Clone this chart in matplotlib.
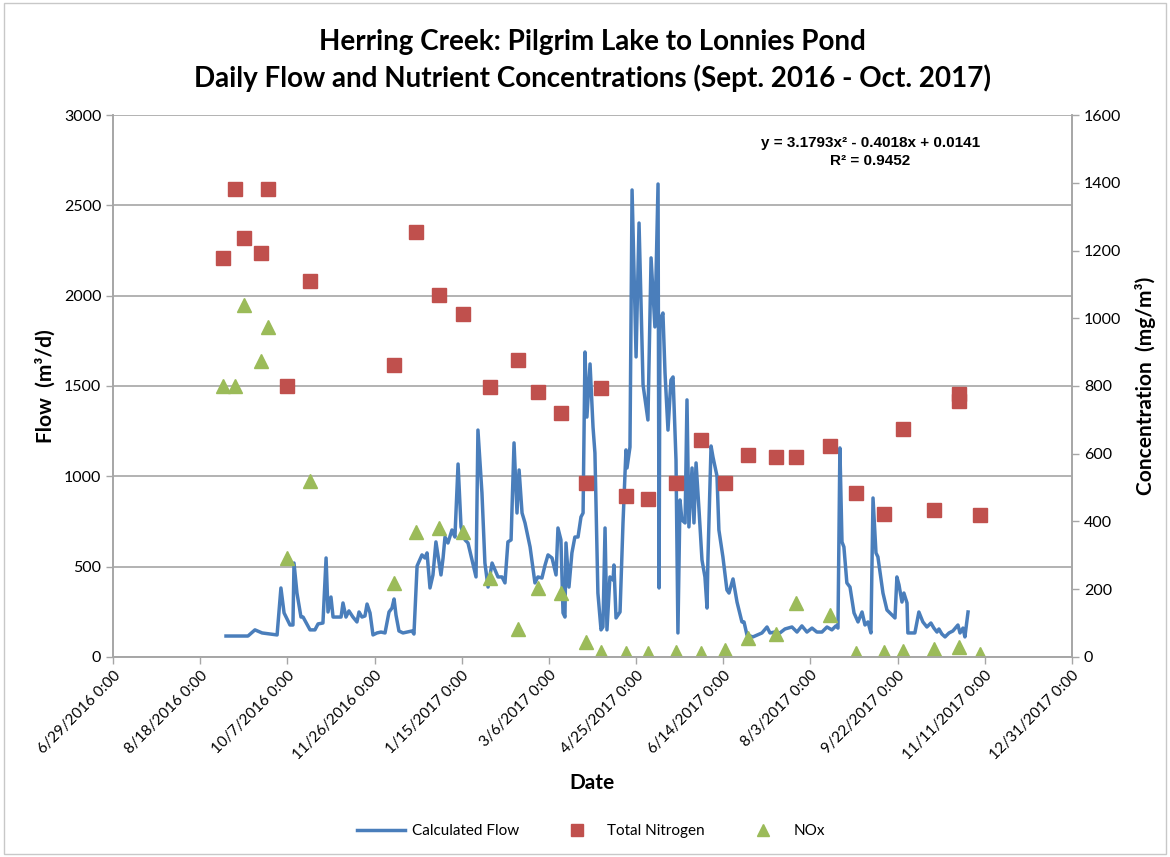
import numpy as np
import pandas as pd
import matplotlib
matplotlib.use("Agg")
import matplotlib.pyplot as plt
from matplotlib.lines import Line2D
from matplotlib.patches import Rectangle

start = pd.Timestamp("2016-06-29")

# daily flow, read as vertices (days since 6/29/2016, m3/d)
flow_day = [64.8, 77.4, 81.4, 85.5, 94.1, 96.3, 98.1, 101.5, 103.2, 103.8, 105.5, 107.8, 109.0,
            113.0, 115.8, 117.6, 120.4, 122.2, 123.3, 125.0, 126.2, 130.8, 131.9, 133.6, 135.3,
            137.6, 139.9, 141.1, 142.8, 144.5, 145.7, 147.4, 149.1, 151.4, 153.7, 156.0, 158.3,
            160.0, 161.2, 162.3, 164.0, 166.3, 171.5, 172.6, 174.4, 177.2, 178.9, 180.1, 181.8,
            183.5, 185.2, 188.1, 189.3, 190.4, 192.1, 194.4, 196.1, 197.9, 199.6, 201.9, 203.6,
            205.9, 208.2, 209.3, 211.6, 213.3, 215.1, 217.4, 219.1, 220.8, 223.1, 224.8, 226.5,
            228.3, 230.0, 231.7, 232.9, 234.6, 236.3, 239.2, 242.0, 243.7, 246.0, 247.8, 249.5,
            251.8, 254.1, 255.2, 256.9, 258.1, 259.2, 259.8, 261.5, 263.2, 264.9, 266.7, 268.4,
            269.6, 270.7, 271.8, 273.6, 275.3, 276.4, 278.1, 279.9, 281.0, 282.2, 283.3, 285.0,
            286.8, 287.3, 288.5, 290.8, 292.5, 294.2, 294.8, 296.5, 297.7, 300.0, 301.7, 304.0,
            306.8, 308.6, 310.8, 312.6, 313.2, 313.7, 315.4, 316.6, 318.3, 320.0, 321.2, 322.9,
            324.0, 325.2, 326.3, 328.1, 329.2, 330.3, 332.1, 333.2, 334.4, 336.1, 337.8, 339.5,
            340.7, 341.2, 343.0, 344.1, 346.4, 347.5, 349.8, 352.1, 353.3, 355.6, 357.9, 360.7,
            361.9, 363.6, 367.0, 372.2, 375.1, 376.8, 379.6, 382.5, 385.4, 389.4, 392.3, 395.1,
            398.0, 400.9, 403.7, 406.6, 409.5, 412.3, 414.6, 415.8, 416.9, 418.1, 419.2, 420.9,
            422.7, 425.0, 427.3, 429.6, 431.3, 433.0, 434.7, 435.9, 437.6, 438.7, 441.6, 443.9,
            446.8, 448.5, 449.6, 450.8, 452.5, 453.6, 455.4, 455.9, 459.9, 462.2, 464.5, 466.8,
            469.1, 470.8, 472.6, 473.7, 475.4, 477.2, 479.5, 481.7, 484.6, 485.8, 487.5, 488.6,
            490.4]
flow = [116, 116, 150, 133, 122, 382, 244, 177, 177, 520, 354, 221, 221,
        150, 150, 183, 188, 548, 249, 332, 221, 221, 299, 221, 255,
        221, 194, 249, 221, 227, 293, 244, 122, 133, 138, 133, 249,
        271, 321, 232, 144, 133, 144, 127, 504, 565, 548, 576, 382,
        454, 637, 454, 548, 664, 631, 703, 664, 1068, 720, 648, 631,
        537, 443, 1256, 908, 520, 387, 520, 482, 443, 443, 410, 637,
        648, 1185, 797, 1035, 797, 742, 609, 410, 443, 437, 509, 565,
        548, 454, 714, 648, 244, 221, 631, 387, 576, 664, 664, 775,
        797, 1688, 1328, 1622, 1273, 1129, 354, 150, 166, 714, 150, 443,
        426, 509, 216, 249, 742, 1146, 1046, 1162, 2585, 1661, 2402, 1506,
        1312, 2209, 1827, 2618, 382, 1865, 1904, 1572, 1256, 1533, 1550, 1090,
        133, 869, 758, 742, 1423, 720, 1046, 742, 1074, 814, 537, 443,
        271, 537, 1168, 1107, 1002, 703, 554, 371, 354, 432, 304, 194,
        194, 122, 111, 133, 166, 133, 138, 133, 155, 166, 138, 172,
        138, 160, 138, 138, 166, 150, 172, 160, 1157, 637, 609, 410,
        387, 244, 194, 249, 177, 194, 133, 880, 576, 554, 354, 260,
        232, 216, 443, 399, 304, 354, 299, 133, 133, 249, 194, 166,
        188, 160, 138, 155, 127, 111, 133, 144, 177, 133, 160, 111,
        249]

tn_dates = ["2016-08-31", "2016-09-07", "2016-09-12", "2016-09-22", "2016-09-26", "2016-10-07",
            "2016-10-20", "2016-12-07", "2016-12-20", "2017-01-02", "2017-01-16", "2017-01-31",
            "2017-02-16", "2017-02-28", "2017-03-13", "2017-03-27", "2017-04-05", "2017-04-19",
            "2017-05-02", "2017-05-18", "2017-06-01", "2017-06-15", "2017-06-28", "2017-07-14",
            "2017-07-26", "2017-08-14", "2017-08-29", "2017-09-14", "2017-09-25", "2017-10-13",
            "2017-10-27", "2017-10-27", "2017-11-08"]
tn = [1178, 1381, 1237, 1193, 1381, 800, 1110, 862, 1255, 1069, 1013, 797,
      877, 782, 720, 514, 794, 475, 466, 514, 641, 514, 596, 590,
      590, 623, 484, 422, 673, 434, 776, 756, 419]

nox_dates = ["2016-08-31", "2016-09-07", "2016-09-12", "2016-09-22", "2016-09-26", "2016-10-07",
             "2016-10-20", "2016-12-07", "2016-12-20", "2017-01-02", "2017-01-16", "2017-01-31",
             "2017-02-16", "2017-02-28", "2017-03-13", "2017-03-27", "2017-04-05", "2017-04-19",
             "2017-05-02", "2017-05-18", "2017-06-01", "2017-06-15", "2017-06-28", "2017-07-14",
             "2017-07-26", "2017-08-14", "2017-08-29", "2017-09-14", "2017-09-25", "2017-10-13",
             "2017-10-27", "2017-11-08"]
nox = [800, 800, 1039, 874, 974, 292, 520, 218, 369, 381, 369, 233,
       83, 204, 189, 44, 15, 12, 12, 15, 13, 20, 56, 68,
       160, 124, 12, 15, 18, 24, 30, 9]

flow_dates = start + pd.to_timedelta(flow_day, unit="D")
tn_dates = pd.to_datetime(tn_dates)
nox_dates = pd.to_datetime(nox_dates)

plt.rcParams['font.family'] = ['Lato', 'DejaVu Sans']

fig = plt.figure(figsize=(11.7, 8.57), dpi=100)
fig.patches.append(Rectangle((0.003, 0.003), 0.994, 0.994, transform=fig.transFigure,
                             fill=False, edgecolor='#c8c8c8', lw=1))
ax = fig.add_axes([0.0966, 0.2334, 0.8196, 0.6324])
ax2 = ax.twinx()

blue = '#4a7ebb'
red = '#c0504d'
green = '#9bbb59'
grid = '#a6a6a6'

ax.plot(flow_dates, flow, color=blue, lw=2.5, zorder=3)
ax2.plot(tn_dates, tn, ls='none', marker='s', ms=9.5, color=red, mec=red)
ax2.plot(nox_dates, nox, ls='none', marker='^', ms=10, color=green, mec=green)

xmin = start
xmax = pd.Timestamp("2017-12-31")
ax.set_xlim(xmin, xmax)
ax.set_ylim(0, 3000)
ax2.set_ylim(0, 1600)
ax.set_yticks(np.arange(0, 3001, 500))
ax2.set_yticks(np.arange(0, 1601, 200))
ticks = pd.date_range(xmin, xmax, freq="50D")
ax.set_xticks(ticks)
ax.set_xticklabels([f"{d.month}/{d.day}/{d.year} 0:00" for d in ticks],
                   rotation=45, ha='right', rotation_mode='anchor', fontsize=11)
ax.yaxis.grid(True, color=grid, lw=1.2)
ax.set_axisbelow(True)

for a in (ax, ax2):
    a.spines['top'].set_visible(False)
    for s in ('left', 'right', 'bottom'):
        a.spines[s].set_color(grid)
        a.spines[s].set_linewidth(1.2)
    a.tick_params(colors=grid, labelcolor='black', labelsize=11.5, length=5, width=1)
ax.tick_params(axis='x', labelsize=11, pad=3)

ax.set_xlabel("Date", fontsize=15, fontweight='bold', labelpad=8)
ax.set_ylabel("Flow  (m\u00b3/d)", fontsize=15, fontweight='bold', labelpad=6)
ax2.set_ylabel("Concentration  (mg/m\u00b3)", fontsize=15, fontweight='bold', labelpad=10)

fig.text(0.506, 0.951, "Herring Creek: Pilgrim Lake to Lonnies Pond", ha='center', va='center',
         fontsize=20, fontweight='bold')
fig.text(0.506, 0.909, "Daily Flow and Nutrient Concentrations (Sept. 2016 - Oct. 2017)",
         ha='center', va='center', fontsize=20, fontweight='bold')

ax.text(0.79, 0.948, "y = 3.1793x\u00b2 - 0.4018x + 0.0141", transform=ax.transAxes, ha='center',
        va='center', fontsize=11, fontweight='bold', family=['Liberation Sans', 'DejaVu Sans'])
ax.text(0.79, 0.915, "R\u00b2 = 0.9452", transform=ax.transAxes, ha='center',
        va='center', fontsize=11, fontweight='bold', family=['Liberation Sans', 'DejaVu Sans'])

handles = [Line2D([], [], color=blue, lw=2.5),
           Line2D([], [], ls='none', marker='s', ms=9, color=red),
           Line2D([], [], ls='none', marker='^', ms=9, color=green)]
fig.legend(handles, ["Calculated Flow", "Total Nitrogen", "NOx"], loc='center',
           bbox_to_anchor=(0.505, 0.03), ncol=3, frameon=False, fontsize=11,
           handlelength=3.2, handletextpad=0.4, columnspacing=2.2)

fig.savefig("out.png", dpi=100)
